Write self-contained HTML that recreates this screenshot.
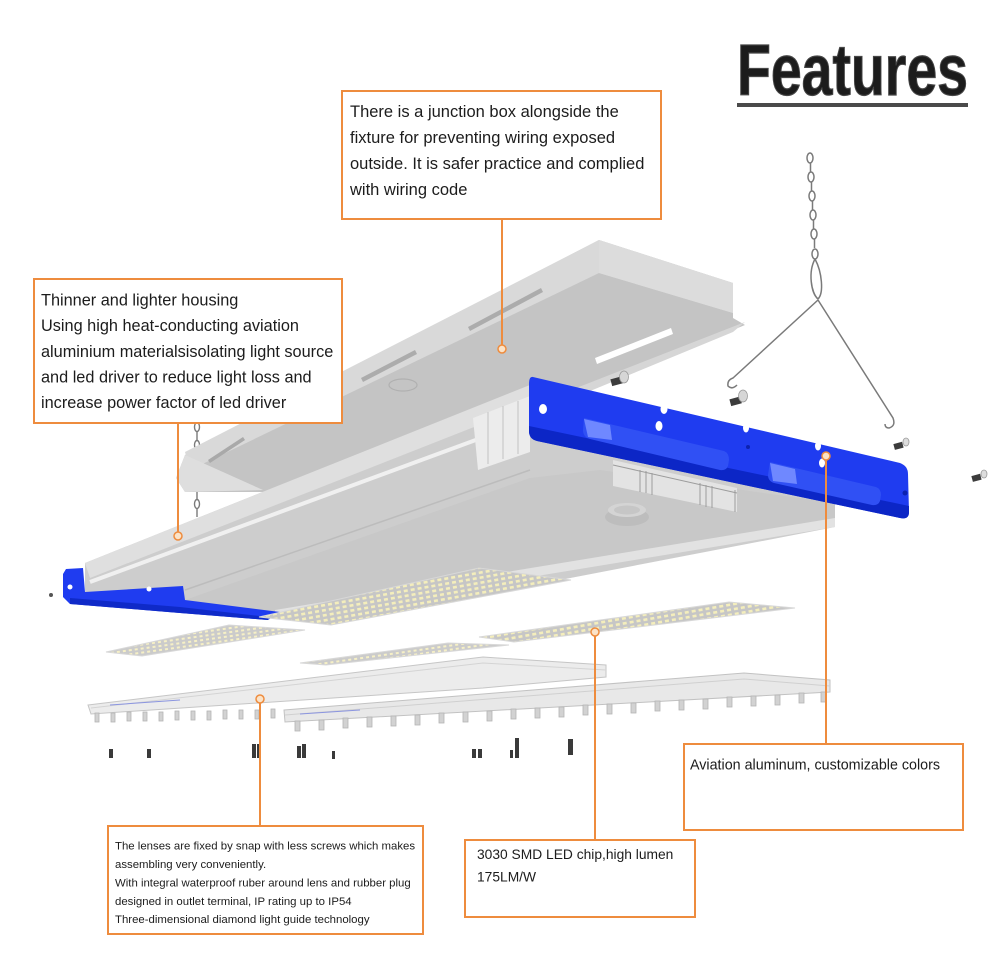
<!DOCTYPE html>
<html><head><meta charset="utf-8">
<style>
html,body{margin:0;padding:0;background:#fff;}
svg{display:block;}
text{font-family:"Liberation Sans",Arial,sans-serif;fill:#1c1c1c;}
</style></head>
<body>
<svg width="1000" height="955" viewBox="0 0 1000 955" xmlns="http://www.w3.org/2000/svg">
<defs>
<pattern id="led" width="7" height="5" patternUnits="userSpaceOnUse" patternTransform="rotate(-10)">
<rect width="7" height="5" fill="#c6c6c6"/>
<rect x="1" y="1" width="4" height="2.6" fill="#f4eebc"/>
</pattern>
<pattern id="led2" width="6" height="4" patternUnits="userSpaceOnUse" patternTransform="rotate(-8)">
<rect width="6" height="4" fill="#cbcbcb"/>
<rect x="1" y="1" width="3" height="2" fill="#f6f0c6"/>
</pattern>
</defs>
<rect width="1000" height="955" fill="#fff"/>

<!-- Title -->
<text x="737" y="95" font-size="72" font-weight="bold" fill="#464646" stroke="#464646" stroke-width="1.2" textLength="231" lengthAdjust="spacingAndGlyphs">Features</text>
<rect x="737" y="103" width="231" height="4" fill="#4a4a4a"/>

<!-- left chain -->
<g stroke="#7a7a7a" stroke-width="1.4" fill="none">
<ellipse cx="197" cy="427" rx="2.5" ry="4.5"/><line x1="197" y1="432" x2="197" y2="440"/><ellipse cx="197" cy="445" rx="2.5" ry="4.5"/>
<ellipse cx="197" cy="486" rx="2.5" ry="4.5"/><line x1="197" y1="491" x2="197" y2="499"/><ellipse cx="197" cy="504" rx="2.5" ry="4.5"/><line x1="197" y1="509" x2="197" y2="517"/>
</g>

<!-- junction tray -->
<polygon points="176,478 185,455 599,240 733,283 733,318 745,325 520,418 470,438 275,492 185,492" fill="#c4c4c4"/>
<polygon points="185,452 599,240 733,283 733,313 599,273 190,470" fill="#d9d9d9"/>
<polygon points="599,240 733,283 733,313 599,273" fill="#dcdcdc"/>
<polygon points="745,322 733,332 520,420 520,410" fill="#d6d6d6"/>
<polygon points="185,455 263,490 185,492 176,478" fill="#dedede"/>
<!-- slots -->
<polygon points="208,460 243,437 245,440 210,463" fill="#a9a9a9"/>
<polygon points="361,378 415,350 417,354 363,382" fill="#acacac"/>
<polygon points="468,327 541,288 543,292 470,331" fill="#acacac"/>
<polygon points="595,358 671,328 673,334 597,364" fill="#ffffff"/>
<ellipse cx="403" cy="385" rx="14" ry="6" fill="none" stroke="#b0b0b0" stroke-width="1.2"/>

<!-- main housing -->
<polygon points="85,563 530,385 535,440 835,503 835,527 560,580 420,585 275,618 185,603 85,595" fill="#cdcdcd"/>
<polygon points="85,563 530,385 530,405 90,578" fill="#dfdfdf"/>
<line x1="90" y1="582" x2="530" y2="420" stroke="#f0f0f0" stroke-width="4"/>
<line x1="185" y1="590" x2="530" y2="470" stroke="#bcbcbc" stroke-width="1.5"/>
<polygon points="185,600 530,478 600,470 835,503 835,520 275,612" fill="#c8c8c8"/>
<polygon points="275,610 835,518 835,527 275,619" fill="#e2e2e2"/>
<!-- housing end profile -->
<polygon points="473,418 530,396 530,452 478,470" fill="#ececec"/>
<g stroke="#c2c2c2" stroke-width="1"><line x1="488" y1="412" x2="488" y2="464"/><line x1="503" y1="406" x2="503" y2="459"/><line x1="518" y1="401" x2="518" y2="454"/></g>
<!-- driver fins -->
<polygon points="613,460 737,488 737,512 613,486" fill="#e3e3e3"/>
<g stroke="#9c9c9c" stroke-width="1"><line x1="613" y1="465" x2="737" y2="493"/>
<line x1="640" y1="470" x2="640" y2="492"/><line x1="646" y1="471" x2="646" y2="493"/><line x1="652" y1="473" x2="652" y2="495"/><line x1="700" y1="483" x2="700" y2="505"/><line x1="706" y1="485" x2="706" y2="507"/><line x1="712" y1="486" x2="712" y2="508"/><line x1="735" y1="490" x2="735" y2="512"/></g>
<ellipse cx="627" cy="517" rx="22" ry="9" fill="#bdbdbd"/>
<ellipse cx="627" cy="510" rx="19" ry="7" fill="#d4d4d4"/>
<ellipse cx="627" cy="510" rx="13" ry="4.5" fill="#c6c6c6"/>

<!-- left blue cap -->
<polygon points="63,574 66,569 83,568 85,592 183,586 185,600 280,612 268,620 180,613 70,604 63,597" fill="#1f3cf0"/>
<polygon points="70,598 180,607 268,617 268,620 180,613 70,604" fill="#0f2ac8"/>
<circle cx="70" cy="587" r="2.5" fill="#fff"/>
<circle cx="149" cy="589" r="2.5" fill="#fff"/>
<circle cx="51" cy="595" r="2" fill="#555"/>

<!-- right blue bar -->
<path d="M533,377 L900,463 Q908,466 908,474 L909,512 Q909,520 900,518 L537,441 Q529,439 529,431 L529,384 Q529,376 533,377 Z" fill="#1f3cf0"/>
<path d="M529,426 L909,506 L909,512 Q909,520 900,518 L537,441 Q529,439 529,431 Z" fill="#0c26c6"/>
<path d="M584,418 L724,451 Q729,453 729,460 L728,466 Q726,471 720,470 L590,439 Q583,437 583,430 Z" fill="#3050f4"/>
<polygon points="584,419 610,425 612,440 588,437" fill="#6f88ff"/>
<path d="M770,462 L876,487 Q881,489 881,495 L880,501 Q878,506 872,505 L774,483 Q768,481 768,475 Z" fill="#3050f4"/>
<polygon points="770,463 795,469 797,484 773,481" fill="#6f88ff"/>
<g fill="#fff">
<ellipse cx="543" cy="409" rx="4" ry="5"/>
<ellipse cx="664" cy="409" rx="3.5" ry="5"/>
<ellipse cx="659" cy="426" rx="3.5" ry="5"/>
<ellipse cx="746" cy="428" rx="3" ry="4.5"/>
<ellipse cx="818" cy="446" rx="3" ry="4.5"/>
<ellipse cx="822" cy="463" rx="3" ry="4.5"/>
</g>
<circle cx="748" cy="447" r="2" fill="#0c22b0"/>
<circle cx="905" cy="493" r="2.5" fill="#0c22b0"/>

<!-- screws near bar -->
<g>
<rect x="611" y="378" width="11" height="7" fill="#3c3c3c" transform="rotate(-15 616 381)"/>
<ellipse cx="624" cy="377" rx="4.5" ry="6" fill="#d6d6d6" stroke="#999" stroke-width="0.8"/>
<rect x="730" y="398" width="11" height="7" fill="#3c3c3c" transform="rotate(-15 735 401)"/>
<ellipse cx="743" cy="396" rx="4.5" ry="6" fill="#d6d6d6" stroke="#999" stroke-width="0.8"/>
<rect x="894" y="443" width="9" height="6" fill="#3c3c3c" transform="rotate(-15 898 446)"/>
<ellipse cx="906" cy="442" rx="3" ry="4" fill="#ddd" stroke="#999" stroke-width="0.8"/>
<rect x="972" y="475" width="9" height="6" fill="#3c3c3c" transform="rotate(-15 976 478)"/>
<ellipse cx="984" cy="474" rx="3" ry="4" fill="#ddd" stroke="#999" stroke-width="0.8"/>
</g>

<!-- right chain and hanger -->
<g stroke="#7a7a7a" stroke-width="1.5" fill="none">
<ellipse cx="810" cy="158" rx="3" ry="5"/><line x1="810.5" y1="163" x2="810.5" y2="172"/>
<ellipse cx="811" cy="177" rx="3" ry="5"/><line x1="811.5" y1="182" x2="811.5" y2="191"/>
<ellipse cx="812" cy="196" rx="3" ry="5"/><line x1="812.5" y1="201" x2="812.5" y2="210"/>
<ellipse cx="813" cy="215" rx="3" ry="5"/><line x1="813.5" y1="220" x2="813.5" y2="229"/>
<ellipse cx="814" cy="234" rx="3" ry="5"/><line x1="814.5" y1="239" x2="814.5" y2="248"/>
<ellipse cx="815" cy="254" rx="3" ry="5"/>
<path d="M815,259 C808,272 811,293 818,299 C824,293 822,272 815,259"/>
<path d="M818,300 L733,378 q-6,2 -5,8 q4,4 9,-1"/>
<path d="M818,300 L893,418 q3,8 -4,10 q-4,0 -4,-4"/>
</g>

<!-- LED boards -->
<polygon points="259,617 479,568 571,580 331,625" fill="url(#led)" stroke="#d8d8d8" stroke-width="1"/>
<polygon points="106,652 229,625 305,630 142,656" fill="url(#led2)" stroke="#d8d8d8" stroke-width="1"/>
<polygon points="300,663 448,643 509,645 326,665" fill="url(#led2)" stroke="#d8d8d8" stroke-width="1"/>
<polygon points="479,637 729,602 795,608 514,642" fill="url(#led)" stroke="#d8d8d8" stroke-width="1"/>

<!-- lenses -->
<polygon points="88,705 483,657 606,665 606,677 483,688 91,714" fill="#ececec" stroke="#c6c6c6" stroke-width="1"/>
<polyline points="91,708 483,663 606,670" fill="none" stroke="#d4d4d4" stroke-width="1"/>
<polygon points="284,710 744,673 830,680 830,692 285,722" fill="#e8e8e8" stroke="#c2c2c2" stroke-width="1"/>
<polyline points="285,715 744,679 830,686" fill="none" stroke="#d0d0d0" stroke-width="1"/>
<line x1="110" y1="705" x2="180" y2="700" stroke="#8b95e0" stroke-width="1"/>
<line x1="300" y1="714" x2="360" y2="710" stroke="#8b95e0" stroke-width="1"/>
<g fill="#d2d2d2" stroke="#b4b4b4" stroke-width="0.8">
<rect x="95" y="713" width="4" height="9"/><rect x="111" y="713" width="4" height="9"/><rect x="127" y="712" width="4" height="9"/><rect x="143" y="712" width="4" height="9"/><rect x="159" y="712" width="4" height="9"/><rect x="175" y="711" width="4" height="9"/><rect x="191" y="711" width="4" height="9"/><rect x="207" y="711" width="4" height="9"/><rect x="223" y="710" width="4" height="9"/><rect x="239" y="710" width="4" height="9"/><rect x="255" y="710" width="4" height="9"/><rect x="271" y="709" width="4" height="9"/>
<rect x="295" y="721" width="5" height="10"/><rect x="319" y="720" width="5" height="10"/><rect x="343" y="718" width="5" height="10"/><rect x="367" y="717" width="5" height="10"/><rect x="391" y="716" width="5" height="10"/><rect x="415" y="715" width="5" height="10"/><rect x="439" y="713" width="5" height="10"/><rect x="463" y="712" width="5" height="10"/><rect x="487" y="711" width="5" height="10"/><rect x="511" y="709" width="5" height="10"/><rect x="535" y="708" width="5" height="10"/><rect x="559" y="707" width="5" height="10"/><rect x="583" y="705" width="5" height="10"/><rect x="607" y="704" width="5" height="10"/><rect x="631" y="703" width="5" height="10"/><rect x="655" y="701" width="5" height="10"/><rect x="679" y="700" width="5" height="10"/><rect x="703" y="699" width="5" height="10"/><rect x="727" y="697" width="5" height="10"/><rect x="751" y="696" width="5" height="10"/><rect x="775" y="695" width="5" height="10"/><rect x="799" y="693" width="5" height="10"/><rect x="821" y="692" width="5" height="10"/>
</g>

<!-- bottom screws -->
<g fill="#3a3a3a">
<rect x="109" y="749" width="4" height="9"/>
<rect x="147" y="749" width="4" height="9"/>
<rect x="252" y="744" width="4" height="14"/><rect x="257" y="744" width="4" height="14"/>
<rect x="297" y="746" width="4" height="12"/><rect x="302" y="744" width="4" height="14"/>
<rect x="332" y="751" width="3" height="8"/>
<rect x="472" y="749" width="4" height="9"/><rect x="478" y="749" width="4" height="9"/>
<rect x="510" y="750" width="3" height="8"/><rect x="515" y="738" width="4" height="20"/>
<rect x="568" y="739" width="5" height="16"/>
</g>

<!-- connectors -->
<g stroke="#ee8c3e" stroke-width="2" fill="none">
<line x1="502" y1="219" x2="502" y2="345"/>
<line x1="178" y1="423" x2="178" y2="532"/>
<line x1="826" y1="460" x2="826" y2="744"/>
<line x1="595" y1="636" x2="595" y2="839"/>
<line x1="260" y1="703" x2="260" y2="826"/>
</g>
<g fill="#fbe3c8" stroke="#ee8c3e" stroke-width="1.5">
<circle cx="502" cy="349" r="4"/>
<circle cx="178" cy="536" r="4"/>
<circle cx="826" cy="456" r="4"/>
<circle cx="595" cy="632" r="4"/>
<circle cx="260" cy="699" r="4"/>
</g>

<!-- text boxes -->
<g fill="#fff" stroke="#ee8c3e" stroke-width="2">
<rect x="342" y="91" width="319" height="128"/>
<rect x="34" y="279" width="308" height="144"/>
<rect x="684" y="744" width="279" height="86"/>
<rect x="465" y="840" width="230" height="77"/>
<rect x="108" y="826" width="315" height="108"/>
</g>

<g font-size="16.5">
<text x="350" y="117">There is a junction box alongside the</text>
<text x="350" y="143">fixture for preventing wiring exposed</text>
<text x="350" y="169">outside. It is safer practice and complied</text>
<text x="350" y="195">with wiring code</text>
</g>
<g font-size="16.3">
<text x="41" y="305.5">Thinner and lighter housing</text>
<text x="41" y="331">Using high heat-conducting aviation</text>
<text x="41" y="357">aluminium materialsisolating light source</text>
<text x="41" y="382.5">and led driver to reduce light loss and</text>
<text x="41" y="408">increase power factor of led driver</text>
</g>
<text x="690" y="769.5" font-size="14.3">Aviation aluminum, customizable colors</text>
<g font-size="13.8">
<text x="477" y="859">3030 SMD LED chip,high lumen</text>
<text x="477" y="881.5">175LM/W</text>
</g>
<g font-size="11.4">
<text x="115" y="849.5">The lenses are fixed by snap with less screws which makes</text>
<text x="115" y="868">assembling very conveniently.</text>
<text x="115" y="886.5">With integral waterproof ruber around lens and rubber plug</text>
<text x="115" y="905">designed in outlet terminal, IP rating up to IP54</text>
<text x="115" y="923">Three-dimensional diamond light guide technology</text>
</g>
</svg>
</body></html>
